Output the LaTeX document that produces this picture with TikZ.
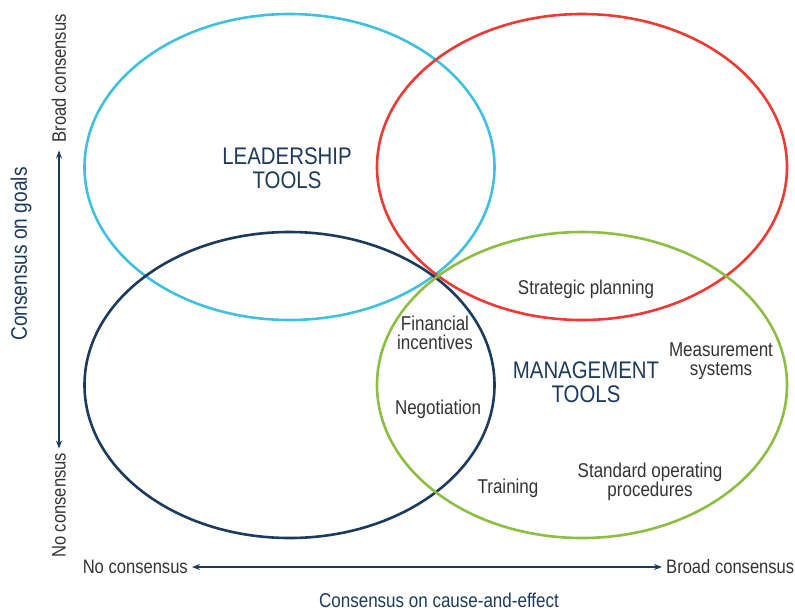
\documentclass[tikz,border=0pt]{standalone}
\usepackage{fontspec}
\setmainfont{Liberation Sans}[FakeStretch=0.85]
\usetikzlibrary{shapes.geometric,arrows.meta}

\begin{document}
\begin{tikzpicture}[x=1pt,y=-1pt,
  ring/.style={ellipse,line width=2.6pt,minimum width=410pt,minimum height=306pt,inner sep=0pt},
  tool/.style={text=navy,align=center,font=\fontsize{24}{23.5}\selectfont},
  item/.style={text=txtgray,align=center,font=\fontsize{20}{19}\selectfont},
  axislbl/.style={text=txtgray,font=\fontsize{19.5}{20}\selectfont,inner sep=4pt},
  axistitle/.style={text=navy,font=\fontsize{20}{20}\selectfont},
  axis/.style={navy,line width=1.1pt,{Stealth[length=8pt,width=6pt]}-{Stealth[length=8pt,width=6pt]}}]
\definecolor{skyblue}{HTML}{3FC1DE}
\definecolor{redline}{HTML}{EE3A35}
\definecolor{navy}{HTML}{1C3A5C}
\definecolor{leafgreen}{HTML}{8DBE42}
\definecolor{txtgray}{HTML}{333333}
\useasboundingbox (0,0) rectangle (795,611);
  \foreach \crlr/\cx/\cy/\nm in {skyblue/289.5/167/leader,redline/582/167/upright,navy/289.5/385/lowleft,leafgreen/582/385/manage}
  {  \node [ring,draw=\crlr] (\nm) at (\cx,\cy) {};}
\node [tool] (leadtxt) at (287,168) {LEADERSHIP\\TOOLS};
\node [tool] (managetxt) at (586,382) {MANAGEMENT\\TOOLS};
\node [item] (strategic) at (586,289) {Strategic planning};
\node [item] (financial) at (435,333) {Financial\\incentives};
\node [item] (measure) at (721,361) {Measurement\\systems};
\node [item] (negotiate) at (438,409) {Negotiation};
\node [item] (training) at (508,488) {Training};
\node [item] (standard) at (650,482) {Standard operating\\procedures};
% axes
\node [axislbl,anchor=east] (nocause) at (192,567) {No consensus};
\node [axislbl,anchor=west] (broadcause) at (662,567) {Broad consensus};
\node [axistitle] (causetitle) at (439,600) {Consensus on cause-and-effect};
\node [axislbl,rotate=90,anchor=west] (nogoal) at (59,562) {No consensus};
\node [axislbl,rotate=90,anchor=east] (broadgoal) at (59,10) {Broad consensus};
\node [axistitle,font=\fontsize{22.5}{22}\selectfont,rotate=90] (goaltitle) at (21,254) {Consensus on goals};
\draw [axis] (nocause.east) -- (broadcause.west);
\draw [axis] (nogoal.east) -- ([yshift=-4pt]broadgoal.west);
\end{tikzpicture}
\end{document}
